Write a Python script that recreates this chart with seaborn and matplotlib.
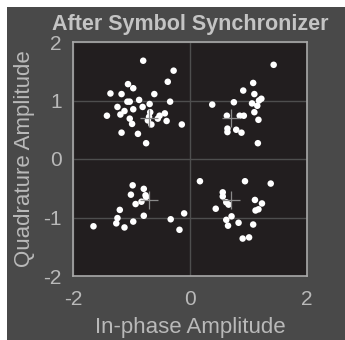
import matplotlib
matplotlib.use("Agg")
import matplotlib.pyplot as plt
import seaborn as sns
import pandas as pd
from matplotlib.patches import Rectangle

# Received symbols (in-phase, quadrature)
i_vals = [
    # quadrant II
    -0.80, -0.28, -0.38, -1.06, -0.97, -1.36, -1.17, -0.61, -0.87, -1.07, -1.03,
    -0.34, -0.69, -1.24, -0.81, -0.97, -1.12, -1.19, -1.42, -0.68, -0.43, -0.52,
    -0.55, -1.03, -0.66, -0.40, -0.14, -0.99, -1.17, -0.89, -0.75, -0.70, -0.72,
    # quadrant I
    1.43, 1.08, 0.91, 1.10, 1.22, 1.18, 0.38, 0.75, 1.06, 1.15, 1.10, 0.63,
    0.85, 0.92, 1.17, 0.64, 0.64, 0.79, 0.88, 1.16,
    # quadrant III
    -0.98, -0.79, -1.01, -0.76, -0.75, -0.83, -0.93, -1.20, -0.79, -1.24, -1.26,
    -0.97, -1.12, -1.65, -0.33, -0.10, -0.18,
    # quadrant IV
    0.17, 0.94, 1.38, 0.56, 0.56, 0.62, 0.66, 1.11, 1.23, 1.17, 1.12, 0.44,
    0.71, 0.62, 0.65, 0.83, 1.08, 0.90, 1.01,
]
q_vals = [
    1.68, 1.51, 1.32, 1.28, 1.21, 1.12, 1.11, 1.11, 1.01, 0.98, 0.98,
    0.98, 0.94, 0.89, 0.89, 0.85, 0.82, 0.76, 0.74, 0.80, 0.78, 0.74,
    0.69, 0.69, 0.59, 0.65, 0.59, 0.60, 0.45, 0.43, 0.27, 0.72, 0.66,
    1.61, 1.30, 1.17, 1.11, 1.03, 1.00, 0.93, 0.97, 0.95, 0.91, 0.80, 0.74,
    0.74, 0.74, 0.67, 0.52, 0.46, 0.50, 0.45, 0.27,
    -0.45, -0.51, -0.61, -0.62, -0.65, -0.73, -0.77, -0.87, -0.97, -1.01, -1.10,
    -1.07, -1.17, -1.15, -1.03, -0.93, -1.21,
    -0.38, -0.38, -0.42, -0.57, -0.64, -0.74, -0.78, -0.70, -0.76, -0.86, -0.88, -0.85,
    -0.98, -1.04, -1.14, -1.09, -1.12, -1.36, -1.34,
]

# Reference constellation
ref_i = [-0.707, 0.707, -0.707, 0.707]
ref_q = [0.707, 0.707, -0.707, -0.707]

x_ticks = [-2, 0, 2]
y_ticks = [-2, -1, 0, 1, 2]

title = "After Symbol Synchronizer"
xlabel = "In-phase Amplitude"
ylabel = "Quadrature Amplitude"

sns.set_style("dark")
plt.rcParams["font.family"] = ["Liberation Sans", "DejaVu Sans"]

fig_bg = "#494949"
ax_bg = "#221e1f"
txt = "#b9b9b9"

fig = plt.figure(figsize=(3.45, 3.40), dpi=100, facecolor="white")
fig.patches.append(Rectangle((7 / 345, 0), 1, 1 - 7 / 340, transform=fig.transFigure,
                             facecolor=fig_bg, edgecolor="none", zorder=-10))
ax = fig.add_axes([73 / 345, 1 - 276 / 340, 234 / 345, 234 / 340])
ax.set_facecolor(ax_bg)

df = pd.DataFrame({"I": i_vals, "Q": q_vals})
ref = pd.DataFrame({"I": ref_i, "Q": ref_q})

sns.scatterplot(data=df, x="I", y="Q", ax=ax, color="white", s=22,
                edgecolor="none", zorder=3)
sns.scatterplot(data=ref, x="I", y="Q", ax=ax, marker="+", color="#8a8a8a",
                s=150, linewidth=0.9, zorder=4)

ax.set_xlim(-2, 2)
ax.set_ylim(-2, 2)
ax.set_xticks(x_ticks)
ax.set_yticks(y_ticks)
ax.set_xticklabels([str(t) for t in x_ticks])
ax.set_yticklabels([str(t) for t in y_ticks])
ax.grid(True, color="#4e4e4e", linewidth=1.0)
ax.tick_params(direction="in", length=3, width=0.8, color="#9a9a9a",
               labelcolor=txt, labelsize=15, pad=8)
ax.tick_params(axis="x", pad=10)
for sp in ax.spines.values():
    sp.set_visible(True)
    sp.set_color("#a8a8a8")
    sp.set_linewidth(1.2)

ax.set_xlabel(xlabel, color=txt, fontsize=16, labelpad=6)
ax.set_ylabel(ylabel, color=txt, fontsize=16, labelpad=6)
ax.set_title(title, color="#c4c4c4", fontsize=15.5, fontweight="bold", pad=8.5)

fig.savefig("out.png", dpi=100, facecolor=fig.get_facecolor())
